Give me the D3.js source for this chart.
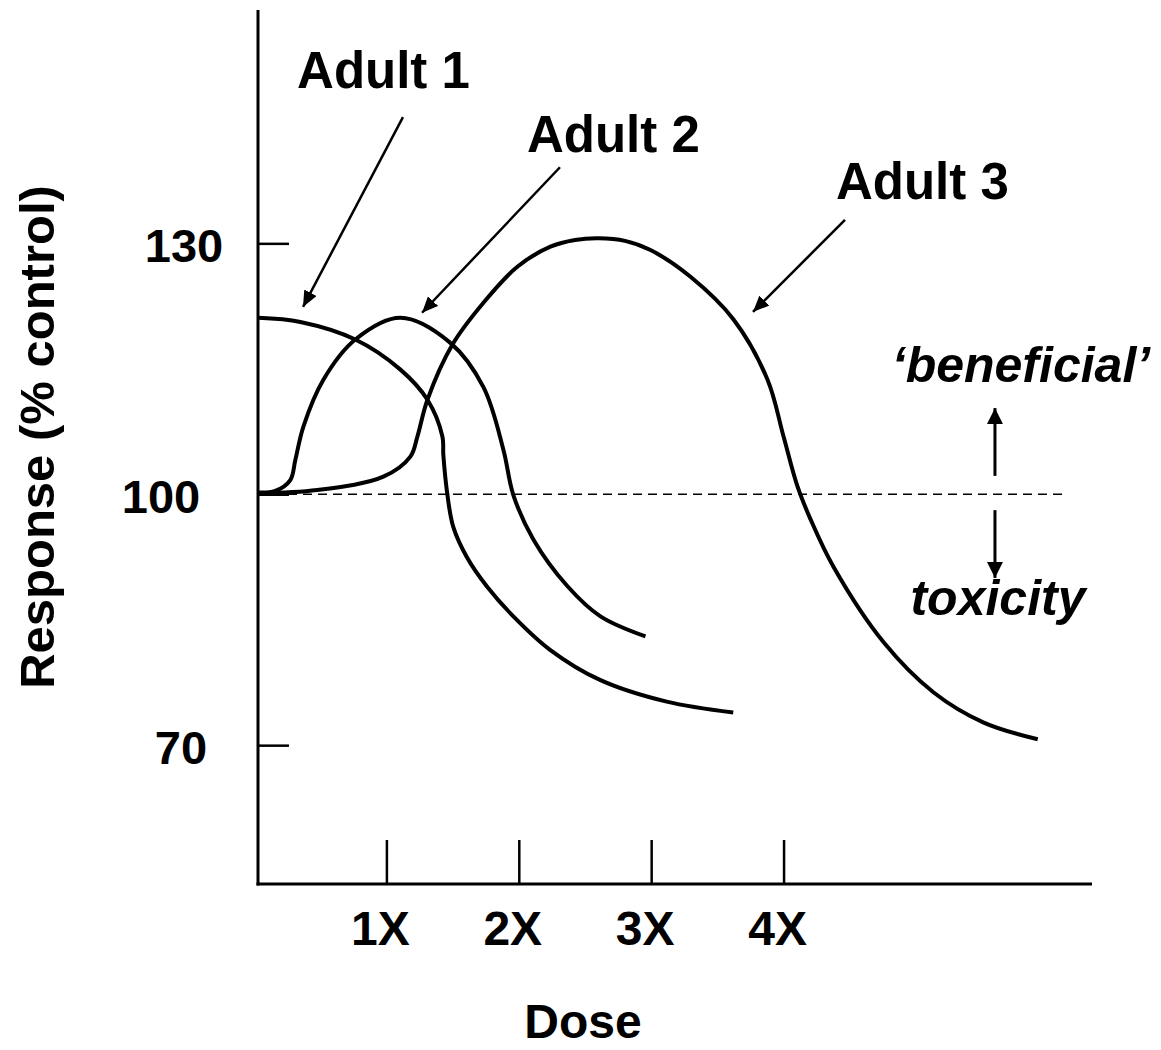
<!DOCTYPE html>
<html>
<head>
<meta charset="utf-8">
<script src="https://cdn.jsdelivr.net/npm/d3@7"></script>
<style>
  html, body { margin: 0; padding: 0; background: #fff; }
  svg { display: block; }
  text { font-family: "Liberation Sans", Arial, Helvetica, sans-serif; font-weight: bold; fill: #000; }
</style>
</head>
<body>
<svg id="chart" width="1161" height="1050"></svg>
<script>
// ---- data (dose in multiples of X, response in % of control) ----
const xDomain = [0.03, 6.33];
const yDomain = [53.4, 157.9];
const xTicks = [1, 2, 3, 4];
const xTickLabels = ["1X", "2X", "3X", "4X"];
const yTicks = [130, 100, 70];
const yTickLabels = ["130", "100", "70"];
const baseline = 100;

const adult1Dose = [0.032, 0.35, 0.765, 1.106, 1.31, 1.423, 1.43, 1.461, 1.505, 1.607, 1.758, 1.959, 2.236, 2.613, 3.117, 3.62];
const adult1Resp = [121.1, 120.6, 118.5, 114.9, 111.3, 106.9, 104.7, 99.9, 96.1, 92.5, 89.0, 85.4, 81.4, 77.8, 75.2, 73.9];

const adult2Dose = [0.032, 0.16, 0.274, 0.312, 0.373, 0.524, 0.765, 1.106, 1.483, 1.733, 1.884, 1.959, 2.11, 2.368, 2.617, 2.957];
const adult2Resp = [100.2, 100.4, 101.7, 104.1, 108.1, 113.7, 118.5, 121.1, 118.1, 112.8, 105.3, 99.9, 94.6, 89.0, 85.4, 83.0];

const adult3Dose = [0.032, 0.478, 0.977, 1.181, 1.234, 1.31, 1.499, 1.733, 1.989, 2.239, 2.425, 2.602, 2.802, 2.995, 3.297, 3.622, 3.879, 4.0, 4.106, 4.204, 4.378, 4.756, 5.134, 5.512, 5.92];
const adult3Resp = [100.1, 100.5, 102.1, 104.5, 106.9, 111.3, 117.9, 122.9, 127.2, 129.6, 130.4, 130.6, 130.3, 129.2, 126.0, 120.9, 113.7, 106.9, 100.9, 97.0, 91.3, 82.3, 76.3, 72.7, 70.7];

const seriesNames = ["Adult 1", "Adult 2", "Adult 3"];
// label anchor (dose, response) and arrow from -> to
const labelPos = [[0.325, 148.6], [2.062, 140.9], [4.396, 135.3]];
const arrowFrom = [[1.125, 145.1], [2.311, 139.1], [4.464, 132.8]];
const arrowTo = [[0.370, 122.4], [1.269, 121.7], [3.769, 121.8]];

const effectDose = 5.597;
const dashEnd = 6.11;
const beneficialArrow = [102.2, 110.3];
const toxicityArrow = [98.1, 90.0];

// ---- layout ----
const svg = d3.select("#chart");
const x = d3.scaleLinear().domain(xDomain).range([258, 1092]);
const y = d3.scaleLinear().domain(yDomain).range([884, 10]);

const defs = svg.append("defs");
defs.append("marker").attr("id", "head").attr("markerUnits", "userSpaceOnUse")
  .attr("viewBox", "0 0 16 14").attr("refX", 16).attr("refY", 7)
  .attr("markerWidth", 16).attr("markerHeight", 14).attr("orient", "auto")
  .append("path").attr("d", "M0,0 L16,7 L0,14 Z").attr("fill", "#000");
defs.append("marker").attr("id", "head2").attr("markerUnits", "userSpaceOnUse")
  .attr("viewBox", "0 0 16 16").attr("refX", 16).attr("refY", 8)
  .attr("markerWidth", 16).attr("markerHeight", 16).attr("orient", "auto")
  .append("path").attr("d", "M0,0 L16,8 L0,16 Z").attr("fill", "#000");

// dashed baseline
svg.append("line")
  .attr("x1", x(xDomain[0])).attr("x2", x(dashEnd))
  .attr("y1", y(baseline)).attr("y2", y(baseline))
  .attr("stroke", "#000").attr("stroke-width", 1.5).attr("stroke-dasharray", "9,6");

// axes
const yAxis = d3.axisRight(y).tickValues(yTicks).tickSize(31).tickFormat("");
const gy = svg.append("g").attr("transform", `translate(${x(xDomain[0])},0)`).call(yAxis);
const xAxis = d3.axisTop(x).tickValues(xTicks).tickSize(44).tickFormat("");
const gx = svg.append("g").attr("transform", `translate(0,${y(yDomain[0])})`).call(xAxis);
[gx, gy].forEach(g => {
  g.select(".domain").remove();
  g.selectAll(".tick line").attr("stroke", "#000").attr("stroke-width", 2.5);
});
svg.append("line").attr("x1", x(xDomain[0])).attr("x2", x(xDomain[0]))
  .attr("y1", y(yDomain[0]) + 1.5).attr("y2", y(yDomain[1]))
  .attr("stroke", "#000").attr("stroke-width", 3);
svg.append("line").attr("x1", x(xDomain[0]) - 1.5).attr("x2", x(xDomain[1]))
  .attr("y1", y(yDomain[0])).attr("y2", y(yDomain[0]))
  .attr("stroke", "#000").attr("stroke-width", 3);

// tick labels
const yLabelX = [184, 161, 181];
yTicks.forEach((t, i) => {
  svg.append("text").attr("x", yLabelX[i]).attr("y", y(t) + 19)
    .attr("text-anchor", "middle").attr("font-size", 47).text(yTickLabels[i]);
});
xTicks.forEach((t, i) => {
  svg.append("text").attr("x", x(t) - 6).attr("y", 945)
    .attr("text-anchor", "middle").attr("font-size", 48).text(xTickLabels[i]);
});

// axis titles
svg.append("text").attr("x", 583).attr("y", 1038).attr("text-anchor", "middle")
  .attr("font-size", 48).text("Dose");
svg.append("text").attr("transform", "translate(54,437) rotate(-90)")
  .attr("text-anchor", "middle").attr("font-size", 49).text("Response (% control)");

// curves
const line = d3.line().x(d => x(d[0])).y(d => y(d[1])).curve(d3.curveCatmullRom.alpha(0.5));
const series = [
  d3.zip(adult1Dose, adult1Resp),
  d3.zip(adult2Dose, adult2Resp),
  d3.zip(adult3Dose, adult3Resp)
];
series.forEach(s => {
  svg.append("path").datum(s).attr("d", line)
    .attr("fill", "none").attr("stroke", "#000").attr("stroke-width", 4)
    .attr("stroke-linejoin", "round");
});

// labels + arrows
seriesNames.forEach((n, i) => {
  svg.append("text").attr("x", x(labelPos[i][0])).attr("y", y(labelPos[i][1]))
    .attr("font-size", 51).text(n);
  svg.append("line")
    .attr("x1", x(arrowFrom[i][0])).attr("y1", y(arrowFrom[i][1]))
    .attr("x2", x(arrowTo[i][0])).attr("y2", y(arrowTo[i][1]))
    .attr("stroke", "#000").attr("stroke-width", 2.5).attr("marker-end", "url(#head)");
});

// beneficial / toxicity
svg.append("line").attr("x1", x(effectDose)).attr("x2", x(effectDose))
  .attr("y1", y(beneficialArrow[0])).attr("y2", y(beneficialArrow[1]))
  .attr("stroke", "#000").attr("stroke-width", 3).attr("marker-end", "url(#head2)");
svg.append("line").attr("x1", x(effectDose)).attr("x2", x(effectDose))
  .attr("y1", y(toxicityArrow[0])).attr("y2", y(toxicityArrow[1]))
  .attr("stroke", "#000").attr("stroke-width", 3).attr("marker-end", "url(#head2)");
svg.append("text").attr("x", 1021).attr("y", 382).attr("text-anchor", "middle")
  .attr("font-size", 50).attr("font-style", "italic").text("\u2018beneficial\u2019");
svg.append("text").attr("x", 998).attr("y", 615).attr("text-anchor", "middle")
  .attr("font-size", 50).attr("font-style", "italic").text("toxicity");
</script>
</body>
</html>
